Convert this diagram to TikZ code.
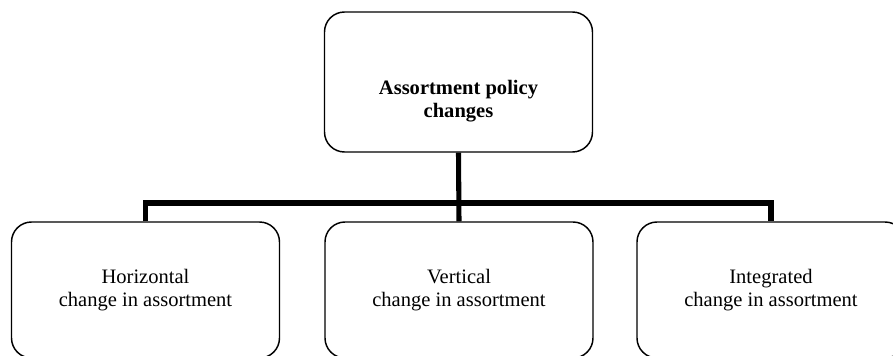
\documentclass[tikz,border=0pt]{standalone}
\usepackage{fontspec}
\setmainfont{Liberation Serif}
\begin{document}
\begin{tikzpicture}[x=0.75pt,y=-0.75pt,
  box/.style={draw=black, line width=1.1pt, rounded corners=15pt, minimum width=201pt, inner sep=0pt},
  topbox/.style={box, minimum height=105pt},
  leafbox/.style={box, minimum height=102pt, align=center, font=\fontsize{15.4}{17.3}\selectfont},
  lbl/.style={align=center, inner sep=0pt, font=\fontsize{15.4}{17.3}\selectfont\bfseries},
  conn/.style={draw=black, line width=3.8pt, line join=miter, line cap=butt}]
\useasboundingbox (0,0) rectangle (893,356);
\clip (0,0) rectangle (893,356);
\fill[white] (0,0) rectangle (893,356);
\node[topbox] (top) at (458.5,82) {};
\node[lbl] (toptext) at (458.5,101) {Assortment policy\\changes};
\node[leafbox] (left) at (145.5,290) {Horizontal\\change in assortment};
\node[leafbox] (mid) at (459,290) {Vertical\\change in assortment};
\node[leafbox] (right) at (771,290) {Integrated\\change in assortment};
\coordinate (jl) at (left.north |- 0,203);
\coordinate (jr) at (right.north |- 0,203);
\draw[conn] (top.south) -- (mid.north);
\draw[conn] (left.north) -- (jl) -- (jr) -- (right.north);
\end{tikzpicture}
\end{document}
